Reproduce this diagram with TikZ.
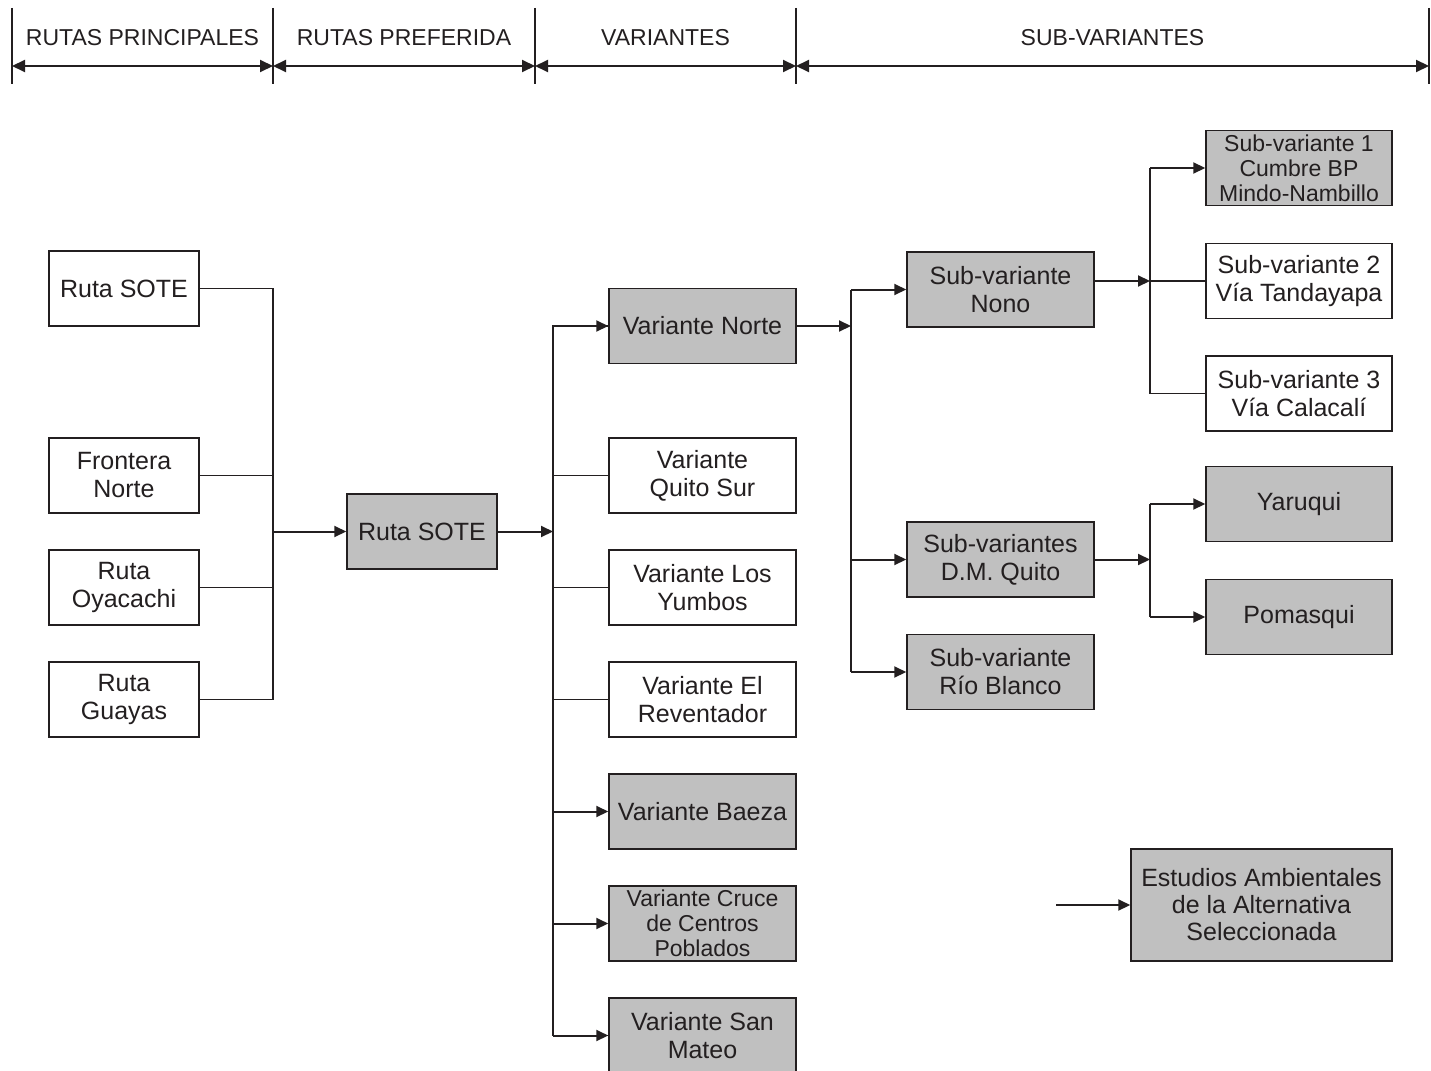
\documentclass[tikz,border=0pt]{standalone}
\usepackage{fontspec}
\setmainfont{Liberation Sans}
\usetikzlibrary{arrows.meta}
\definecolor{ink}{HTML}{231F20}
\definecolor{boxgray}{HTML}{C0C0C0}
\begin{document}
\begin{tikzpicture}[x=1pt,y=-1pt,
  box/.style={draw=ink, line width=1.5pt, text=ink, inner sep=0pt, align=center,
              font=\fontsize{25}{28}\selectfont, fill=white},
  shaded/.style={fill=boxgray},
  narrow/.style={minimum width=150pt, minimum height=75pt},
  wide/.style={minimum width=187pt, minimum height=75pt},
  small/.style={font=\fontsize{23}{25}\selectfont},
  link/.style={draw=ink, line width=1.3pt},
  feed/.style={draw=ink, line width=2pt, -{Triangle[length=12pt,width=11pt]}},
  span/.style={draw=ink, line width=2pt,
               {Triangle[length=13pt,width=12pt]}-{Triangle[length=13pt,width=12pt]}},
  head/.style={text=ink, font=\fontsize{23}{25}\selectfont},
  divider/.style={draw=ink, line width=1.2pt},
]
\fill[white] (0,0) rectangle (1431,1070);
\useasboundingbox (0,0) rectangle (1431,1070);

% ---- column headings ----
\foreach \x in {12,273,535,796,1429} \draw[divider] (\x,8) -- (\x,84);
\coordinate (h0) at (12,66);
\coordinate (h1) at (273,66);
\coordinate (h2) at (535,66);
\coordinate (h3) at (796,66);
\coordinate (h4) at (1429,66);
\draw[span] (h0) -- (h1);
\draw[span] (h1) -- (h2);
\draw[span] (h2) -- (h3);
\draw[span] (h3) -- (h4);
\node[head] (t1) at (142.5,38) {RUTAS PRINCIPALES};
\node[head] (t2) at (404,38) {RUTAS PREFERIDA};
\node[head] (t3) at (665.5,38) {VARIANTES};
\node[head] (t4) at (1112.5,38) {SUB-VARIANTES};

% ---- main routes ----
\node[box,narrow] (rs1) at (124,288.5) {Ruta SOTE};
\node[box,narrow] (fn)  at (124,475.5) {Frontera\\Norte};
\node[box,narrow] (ro)  at (124,587.5) {Ruta\\Oyacachi};
\node[box,narrow] (rg)  at (124,699.5) {Ruta\\Guayas};

% ---- preferred route ----
\node[box,narrow,shaded] (rs2) at (422,531.5) {Ruta SOTE};

% ---- variants ----
\node[box,wide,shaded] (vn) at (702.5,326)   {Variante Norte};
\node[box,wide]        (qs) at (702.5,475.5) {Variante\\Quito Sur};
\node[box,wide]        (ly) at (702.5,587.5) {Variante Los\\Yumbos};
\node[box,wide]        (er) at (702.5,699.5) {Variante El\\Reventador};
\node[box,wide,shaded] (bz) at (702.5,811.5) {Variante Baeza};
\node[box,wide,shaded,small] (cr) at (702.5,923.5) {Variante Cruce\\de Centros\\Poblados};
\node[box,wide,shaded] (sm) at (702.5,1035.5) {Variante San\\Mateo};

% ---- sub-variants ----
\node[box,wide,shaded] (nono) at (1000.5,289.5) {Sub-variante\\Nono};
\node[box,wide,shaded] (dmq)  at (1000.5,559.5) {Sub-variantes\\D.M. Quito};
\node[box,wide,shaded] (rb)   at (1000.5,672)   {Sub-variante\\Río Blanco};

\node[box,minimum width=186pt,minimum height=75pt,shaded,small] (sv1) at (1299,168) {Sub-variante 1\\Cumbre BP\\Mindo-Nambillo};
\node[box,minimum width=186pt,minimum height=75pt] (sv2) at (1299,281) {Sub-variante 2\\Vía Tandayapa};
\node[box,minimum width=186pt,minimum height=75pt] (sv3) at (1299,393.5) {Sub-variante 3\\Vía Calacalí};
\node[box,minimum width=186pt,minimum height=75pt,shaded] (yar) at (1299,504) {Yaruqui};
\node[box,minimum width=186pt,minimum height=75pt,shaded] (pom) at (1299,617) {Pomasqui};

\node[box,minimum width=261pt,minimum height=112pt,shaded,
      font=\fontsize{25}{27}\selectfont] (est) at (1261.5,905)
      {Estudios Ambientales\\de la Alternativa\\Seleccionada};

% ---- junction points ----
\coordinate (j1) at (273,531.5);
\coordinate (j2) at (553,531.5);
\coordinate (j3) at (851,326);
\coordinate (j4) at (1150,281);
\coordinate (j5) at (1150,559.5);
\coordinate (lg) at (1056,905);

% ---- connectors: main routes to preferred route ----
\draw[link] (rs1.east) -| (j1);
\draw[link] (rg.east) -| (j1);
\draw[link] (fn.east) -- (fn.east -| j1);
\draw[link] (ro.east) -- (ro.east -| j1);
\draw[feed] (j1) -- (rs2.west);

% ---- connectors: preferred route to variants ----
\draw[feed] (rs2.east) -- (j2);
\draw[link] (j2) |- (vn.west);
\draw[link] (j2) |- (sm.west);
\draw[feed] (j2 |- vn.west) -- (vn.west);
\draw[link] (j2 |- qs.west) -- (qs.west);
\draw[link] (j2 |- ly.west) -- (ly.west);
\draw[link] (j2 |- er.west) -- (er.west);
\draw[feed] (j2 |- bz.west) -- (bz.west);
\draw[feed] (j2 |- cr.west) -- (cr.west);
\draw[feed] (j2 |- sm.west) -- (sm.west);

% ---- connectors: Variante Norte to sub-variants ----
\draw[feed] (vn.east) -- (j3);
\draw[link] (j3 |- nono.west) -- (j3 |- rb.west);
\draw[feed] (j3 |- nono.west) -- (nono.west);
\draw[feed] (j3 |- dmq.west) -- (dmq.west);
\draw[feed] (j3 |- rb.west) -- (rb.west);

% ---- connectors: Nono branch ----
\draw[feed] (nono.east |- j4) -- (j4);
\draw[link] (j4 |- sv1.west) -- (j4 |- sv3.west);
\draw[feed] (j4 |- sv1.west) -- (sv1.west);
\draw[link] (j4) -- (sv2.west);
\draw[link] (j4 |- sv3.west) -- (sv3.west);

% ---- connectors: D.M. Quito branch ----
\draw[feed] (dmq.east) -- (j5);
\draw[link] (j5 |- yar.west) -- (j5 |- pom.west);
\draw[feed] (j5 |- yar.west) -- (yar.west);
\draw[feed] (j5 |- pom.west) -- (pom.west);

% ---- final study ----
\draw[feed] (lg) -- (est.west);
\end{tikzpicture}
\end{document}
